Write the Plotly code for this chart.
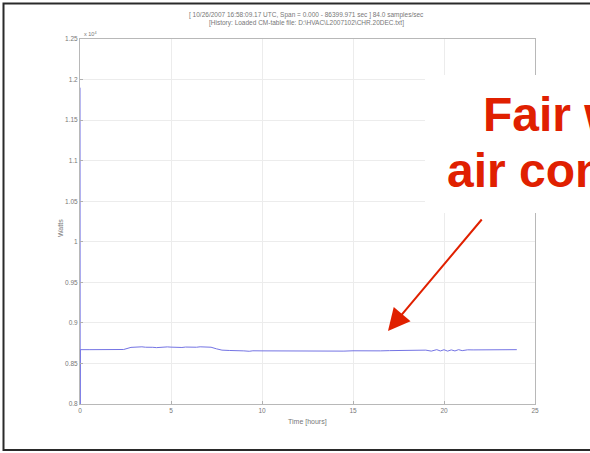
import plotly.graph_objects as go

# ---- data (values in units of 10^4) ----
time_hours = [0, 0.01, 0.02, 0.5, 1.0, 1.8, 2.0, 2.4, 2.8, 3.0, 3.2, 3.4, 3.6, 3.8,
              4.0, 4.2, 4.4, 4.6, 4.8, 5.0, 5.2, 5.4, 5.6, 5.8, 6.0, 6.2, 6.4, 6.6,
              6.8, 7.0, 7.2, 7.5, 7.8, 8.2, 8.6, 9.0, 9.3, 9.5, 10.0, 10.5, 11.0,
              11.5, 12.0, 12.5, 13.0, 13.5, 14.0, 14.5, 15.0, 15.5, 16.0, 16.5,
              17.0, 17.5, 18.0, 18.5, 19.0, 19.3, 19.6, 19.8, 20.0, 20.2, 20.4,
              20.6, 20.8, 21.0, 21.3, 21.6, 22.0, 22.5, 23.0, 23.3, 23.6, 24.0]
power = [1.19, 0.80, 0.867, 0.867, 0.867, 0.867, 0.8668, 0.8672, 0.8698, 0.8702,
         0.8699, 0.8705, 0.8700, 0.8703, 0.8699, 0.8695, 0.8700, 0.8706, 0.8704,
         0.8701, 0.8698, 0.8701, 0.8697, 0.8702, 0.8699, 0.8704, 0.8700, 0.8705,
         0.8702, 0.8706, 0.8700, 0.8680, 0.8664, 0.8660, 0.8662, 0.8655, 0.8650,
         0.8656, 0.8655, 0.8654, 0.8656, 0.8653, 0.8655, 0.8652, 0.8656, 0.8654,
         0.8655, 0.8652, 0.8656, 0.8654, 0.8657, 0.8655, 0.8658, 0.8660, 0.8661,
         0.8663, 0.8664, 0.8652, 0.8670, 0.8654, 0.8669, 0.8652, 0.8667, 0.8654,
         0.8670, 0.8658, 0.8668, 0.8667, 0.8668, 0.8669, 0.8670, 0.8665, 0.8671,
         0.8670]

x_ticks = [0, 5, 10, 15, 20, 25]
y_ticks = [0.8, 0.85, 0.9, 0.95, 1.0, 1.05, 1.1, 1.15, 1.2, 1.25]
y_tick_labels = ["0.8", "0.85", "0.9", "0.95", "1", "1.05", "1.1", "1.15", "1.2", "1.25"]

title_lines = ["[ 10/26/2007 16:58:09.17 UTC, Span = 0.000 - 86399.971 sec ] 84.0 samples/sec",
               "[History: Loaded CM-table file: D:\\HVAC\\L2007102\\CHR.20DEC.txt]"]
callout_lines = ["Fair weather", "air conditioning"]

W, H = 590, 453
L, R, T, B = 80, 55, 39, 49
pw, ph = W - L - R, H - T - B


def px(x):
    return (x - L) / pw


def py(y):
    return (H - B - y) / ph


fig = go.Figure()
fig.add_trace(go.Scatter(x=time_hours, y=power, mode="lines",
                         line=dict(color="#7474e4", width=1), showlegend=False,
                         cliponaxis=True))

axis_common = dict(showline=True, linecolor="#b8b8b8", linewidth=1, mirror=True,
                   ticks="inside", ticklen=3, tickcolor="#b0b0b0",
                   showgrid=True, gridcolor="#ececec", gridwidth=1,
                   zeroline=False, tickfont=dict(family="Arial", size=6.5, color="#777"))

fig.update_xaxes(range=[0, 25], tickvals=x_ticks, **axis_common)
fig.update_yaxes(range=[0.8, 1.25], tickvals=y_ticks, ticktext=y_tick_labels, **axis_common)

small = dict(family="Arial", size=7, color="#777")
ann = []
for i, line in enumerate(title_lines):
    ann.append(dict(x=px(306), y=py(15 + 8 * i), xref="paper", yref="paper", text=line,
                    showarrow=False, font=dict(family="Arial", size=6.5, color="#777"),
                    xanchor="center", yanchor="middle"))
ann.append(dict(x=px(82), y=py(34), xref="paper", yref="paper", text="x 10<sup>4</sup>",
                showarrow=False, font=dict(family="Arial", size=5.5, color="#777"),
                xanchor="left", yanchor="middle"))
ann.append(dict(x=px(60), y=py(228), xref="paper", yref="paper", text="Watts",
                showarrow=False, textangle=-90, font=small,
                xanchor="center", yanchor="middle"))
ann.append(dict(x=px(307), y=py(422), xref="paper", yref="paper", text="Time [hours]",
                showarrow=False, font=small,
                xanchor="center", yanchor="middle"))
# arrow
ann.append(dict(x=px(388), y=py(331), xref="paper", yref="paper", text="",
                showarrow=True, ax=483 - 388, ay=218 - 331,
                arrowhead=2, arrowsize=2.2, arrowwidth=2, arrowcolor="#e02000"))
# callout text (cut off by the right edge, as in the reference slide)
big = dict(family="Arial", size=48, color="#e02000", weight="bold")
ann.append(dict(x=px(481), y=py(114), xref="paper", yref="paper", text=callout_lines[0],
                showarrow=False, font=big, xanchor="left", yanchor="middle"))
ann.append(dict(x=px(445), y=py(171), xref="paper", yref="paper", text=callout_lines[1],
                showarrow=False, font=big, xanchor="left", yanchor="middle"))

shapes = [
    dict(type="rect", xref="paper", yref="paper", x0=px(425), x1=px(620), y0=py(213), y1=py(75),
         fillcolor="white", line=dict(width=0), layer="above"),
    dict(type="rect", xref="paper", yref="paper", x0=px(3.5), x1=px(640), y0=py(450), y1=py(3.5),
         fillcolor="rgba(0,0,0,0)", line=dict(color="#2a2a2a", width=2), layer="above"),
]

fig.update_layout(width=W, height=H, margin=dict(l=L, r=R, t=T, b=B),
                  paper_bgcolor="white", plot_bgcolor="white",
                  annotations=ann, shapes=shapes, showlegend=False)

fig.write_html("out.html")
